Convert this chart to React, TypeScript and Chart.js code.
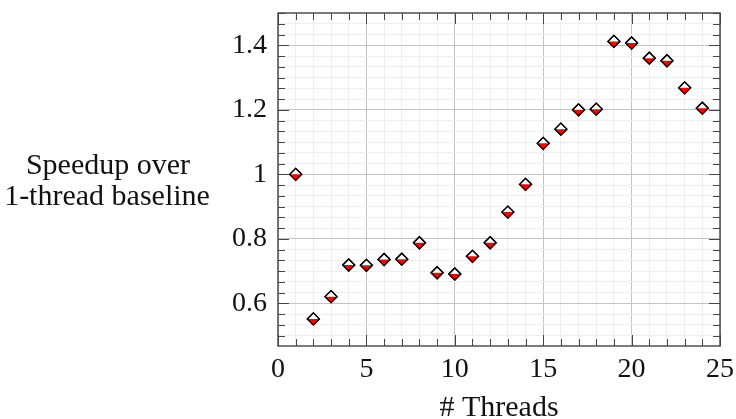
import React, { useEffect, useRef } from "react";
import { Chart, registerables } from "chart.js";

Chart.register(...registerables);

const threads = [1, 2, 3, 4, 5, 6, 7, 8, 9, 10, 11, 12, 13, 14, 15, 16, 17, 18, 19, 20, 21, 22, 23, 24];
const speedup = [1.0, 0.552, 0.621, 0.719, 0.718, 0.736, 0.737, 0.788, 0.695, 0.691, 0.746, 0.788, 0.883, 0.969, 1.096, 1.14, 1.2, 1.202, 1.412, 1.407, 1.36, 1.352, 1.268, 1.205];

const xMajorTicks = [0, 5, 10, 15, 20, 25];
const xTickLabels = ["0", "5", "10", "15", "20", "25"];
const yMajorTicks = [0.6, 0.8, 1.0, 1.2, 1.4];
const yTickLabels = ["0.6", "0.8", "1", "1.2", "1.4"];

const xTitle = "# Threads";
const yTitleLines = ["Speedup over", "1-thread baseline"];

const X_MIN = 0;
const X_MAX = 25;
const Y_MIN = 0.468;
const Y_MAX = 1.5;
const X_MINOR_STEP = 1;
const Y_MINOR_STEP = 1 / 30;

const FONT = "'Liberation Serif', 'Times New Roman', serif";
const MAJOR_GRID = "#c4c4c4";
const MINOR_GRID = "#eeeeee";
const FRAME = "#454545";
const MARK_R = 6;

function isMajor(v: number, list: number[]) {
  return list.findIndex((m) => Math.abs(m - v) < 1e-6);
}

function xMinorValues() {
  const out: number[] = [];
  for (let k = 0; k * X_MINOR_STEP <= X_MAX + 1e-9; k++) out.push(X_MIN + k * X_MINOR_STEP);
  return out;
}
function yMinorValues() {
  const out: number[] = [];
  const start = Math.ceil(Y_MIN / Y_MINOR_STEP - 1e-6);
  for (let k = start; k * Y_MINOR_STEP <= Y_MAX + 1e-9; k++) out.push(k * Y_MINOR_STEP);
  return out;
}

const framePlugin = {
  id: "frameTicks",
  beforeDatasetsDraw(chart: any) {
    const { ctx, chartArea } = chart;
    const xs = chart.scales.x;
    const ys = chart.scales.y;
    const { left, right, top, bottom } = chartArea;
    ctx.save();
    ctx.strokeStyle = FRAME;
    ctx.lineWidth = 1;
    for (const v of xMinorValues()) {
      const len = isMajor(v, xMajorTicks) >= 0 ? 11 : 7;
      const px = Math.round(xs.getPixelForValue(v)) + 0.5;
      ctx.beginPath();
      ctx.moveTo(px, bottom);
      ctx.lineTo(px, bottom - len);
      ctx.moveTo(px, top);
      ctx.lineTo(px, top + len);
      ctx.stroke();
    }
    for (const v of yMinorValues()) {
      const len = isMajor(v, yMajorTicks) >= 0 ? 11 : 7;
      const py = Math.round(ys.getPixelForValue(v)) + 0.5;
      ctx.beginPath();
      ctx.moveTo(left, py);
      ctx.lineTo(left + len, py);
      ctx.moveTo(right, py);
      ctx.lineTo(right - len, py);
      ctx.stroke();
    }
    ctx.lineWidth = 1.4;
    ctx.strokeStyle = FRAME;
    ctx.strokeRect(left, top, right - left, bottom - top);
    ctx.restore();
  },
  afterDatasetsDraw(chart: any) {
    const { ctx } = chart;
    const meta = chart.getDatasetMeta(0);
    ctx.save();
    for (const el of meta.data) {
      const x = el.x;
      const y = el.y;
      const r = MARK_R;
      ctx.beginPath();
      ctx.moveTo(x - r, y);
      ctx.lineTo(x, y + r);
      ctx.lineTo(x + r, y);
      ctx.closePath();
      ctx.fillStyle = "#ff0000";
      ctx.fill();
      ctx.beginPath();
      ctx.moveTo(x - r, y);
      ctx.lineTo(x, y - r);
      ctx.lineTo(x + r, y);
      ctx.lineTo(x, y + r);
      ctx.closePath();
      ctx.strokeStyle = "#000000";
      ctx.lineWidth = 1.3;
      ctx.stroke();
    }
    ctx.restore();
  },
  afterDraw(chart: any) {
    const { ctx, chartArea } = chart;
    ctx.save();
    ctx.fillStyle = "#111111";
    ctx.font = `30px ${FONT}`;
    ctx.textAlign = "center";
    ctx.textBaseline = "alphabetic";
    ctx.fillText(xTitle, (chartArea.left + chartArea.right) / 2, 415.5);
    ctx.fillText(yTitleLines[0], 108, 173.5);
    ctx.fillText(yTitleLines[1], 107, 204.5);
    ctx.restore();
  },
};

export default function App() {
  const ref = useRef<HTMLCanvasElement | null>(null);

  useEffect(() => {
    if (!ref.current) return;
    const chart = new Chart(ref.current, {
      type: "scatter",
      data: {
        datasets: [
          {
            data: threads.map((t, i) => ({ x: t, y: speedup[i] })),
            pointStyle: "rectRot",
            pointRadius: MARK_R,
            pointHoverRadius: MARK_R,
            pointBackgroundColor: "#ffffff",
            pointBorderColor: "#000000",
            pointBorderWidth: 1.3,
            showLine: false,
          },
        ],
      },
      options: {
        animation: false,
        responsive: false,
        devicePixelRatio: 1,
        events: [],
        layout: { padding: { top: 13, right: 16, left: 0, bottom: 0 } },
        plugins: { legend: { display: false }, tooltip: { enabled: false } },
        scales: {
          x: {
            type: "linear",
            min: X_MIN,
            max: X_MAX,
            afterBuildTicks: (scale: any) => {
              scale.ticks = xMinorValues().map((v) => ({ value: v }));
            },
            afterFit: (scale: any) => {
              scale.height = 73;
              scale.paddingLeft = 0;
              scale.paddingRight = 0;
            },
            grid: {
              drawTicks: false,
              color: (c: any) => (isMajor(c.tick?.value, xMajorTicks) >= 0 ? MAJOR_GRID : MINOR_GRID),
              lineWidth: 1,
            },
            border: { display: false },
            ticks: {
              autoSkip: false,
              maxRotation: 0,
              padding: 7,
              color: "#111111",
              font: { family: FONT, size: 28 },
              callback: (v: any) => {
                const i = isMajor(Number(v), xMajorTicks);
                return i >= 0 ? xTickLabels[i] : "";
              },
            },
          },
          y: {
            type: "linear",
            min: Y_MIN,
            max: Y_MAX,
            afterBuildTicks: (scale: any) => {
              scale.ticks = yMinorValues().map((v) => ({ value: v }));
            },
            afterFit: (scale: any) => {
              scale.width = 278;
              scale.paddingTop = 0;
              scale.paddingBottom = 0;
            },
            grid: {
              drawTicks: false,
              color: (c: any) => (isMajor(c.tick?.value, yMajorTicks) >= 0 ? MAJOR_GRID : MINOR_GRID),
              lineWidth: 1,
            },
            border: { display: false },
            ticks: {
              autoSkip: false,
              padding: 11,
              color: "#111111",
              font: { family: FONT, size: 28 },
              callback: (v: any) => {
                const i = isMajor(Number(v), yMajorTicks);
                return i >= 0 ? yTickLabels[i] : "";
              },
            },
          },
        },
      },
      plugins: [framePlugin],
    });
    return () => chart.destroy();
  }, []);

  return (
    <div style={{ position: "absolute", left: 0, top: 0, width: 736, height: 419, background: "#ffffff" }}>
      <canvas ref={ref} width={736} height={419} style={{ width: 736, height: 419, display: "block" }} />
    </div>
  );
}
